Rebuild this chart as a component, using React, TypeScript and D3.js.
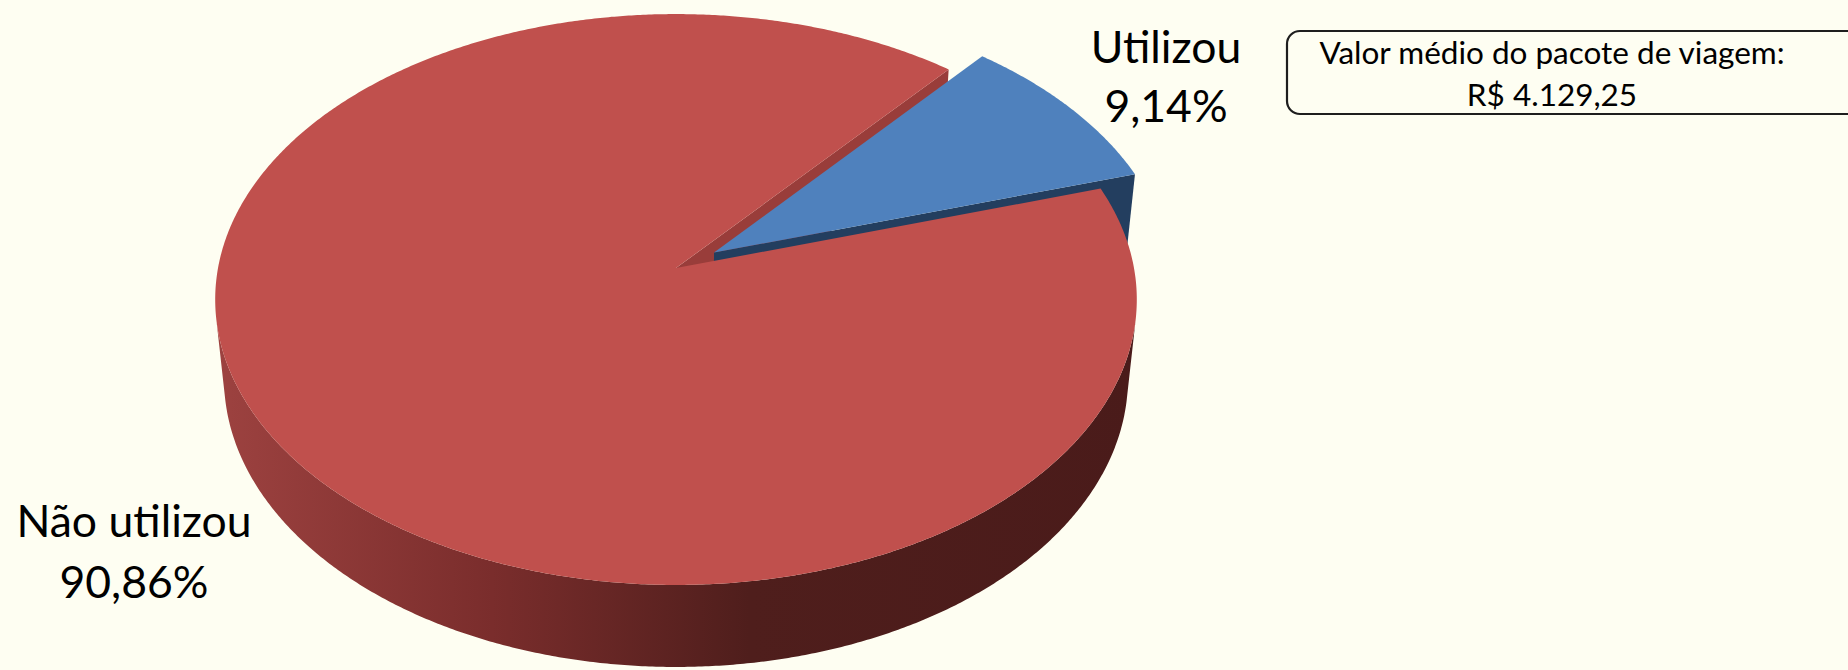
import { useMemo } from 'react'
import * as d3 from 'd3'

// data
const categories = ['Utilizou', 'Não utilizou']
const values = [9.14, 90.86]
const valueLabels = ['9,14%', '90,86%']
const noteLines = ['Valor médio do pacote de viagem:', 'R$ 4.129,25']

const W = 1848
const H = 670
const RAD = Math.PI / 180

// 3d camera
const cx = 676
const cy = 268
const dist = 7.14
const elev = 38 * RAD
const focal = 3270
const depth = 0.2235
const startDeg = 40.2
const explode = [0.1, 0]

const topColors = ['#4F81BD', '#C0504D']
const edgeColors = ['#233E5F', '#993D3A']
const wallColors = ['#2A4A70', 'url(#wallGrad)']

const sinE = Math.sin(elev)
const cosE = Math.cos(elev)
const cam = [0, dist * sinE, dist * cosE]

type P3 = [number, number, number]

function project([X, Y, Z]: P3): [number, number] {
  const w = dist - (Y * sinE + Z * cosE)
  const v = Y * cosE - Z * sinE
  return [cx + (focal * X) / w, cy - (focal * v) / w]
}

function visible(n: P3, p: P3) {
  return n[0] * (cam[0] - p[0]) + n[1] * (cam[1] - p[1]) + n[2] * (cam[2] - p[2]) > 0
}

const line = d3.line<[number, number]>()

export default function App() {
  const faces = useMemo(() => {
    const arcs = d3
      .pie<number>()
      .sort(null)
      .startAngle(startDeg * RAD)
      .endAngle(startDeg * RAD + Math.PI * 2)(values)

    const sides: { key: string; d: string; fill: string }[][] = []
    const tops: { key: string; d: string; fill: string }[] = []

    arcs.forEach((a, i) => {
      const mid = (a.startAngle + a.endAngle) / 2
      const ox = explode[i] * Math.sin(mid)
      const oz = -explode[i] * Math.cos(mid)
      const rim = (t: number, y: number): P3 => [ox + Math.sin(t), y, oz - Math.cos(t)]
      const apex = (y: number): P3 => [ox, y, oz]
      const n = Math.max(8, Math.ceil((a.endAngle - a.startAngle) / (0.4 * RAD)))
      const ts = d3.range(n + 1).map((j) => a.startAngle + ((a.endAngle - a.startAngle) * j) / n)

      const list: { key: string; d: string; fill: string }[] = []

      // radial faces
      ;[
        { t: a.startAngle, nrm: a.startAngle - Math.PI / 2 },
        { t: a.endAngle, nrm: a.endAngle + Math.PI / 2 },
      ].forEach((f, k) => {
        const nv: P3 = [Math.sin(f.nrm), 0, -Math.cos(f.nrm)]
        const pMid: P3 = [ox + 0.5 * Math.sin(f.t), 0, oz - 0.5 * Math.cos(f.t)]
        if (!visible(nv, pMid)) return
        const pts = [apex(0), rim(f.t, 0), rim(f.t, -depth), apex(-depth)].map(project)
        list.push({ key: `r${i}${k}`, d: line(pts) + 'Z', fill: edgeColors[i] })
      })

      // outer wall, contiguous visible runs
      let run: number[] = []
      const runs: number[][] = []
      ts.forEach((t) => {
        const nv: P3 = [Math.sin(t), 0, -Math.cos(t)]
        if (visible(nv, rim(t, -depth / 2))) run.push(t)
        else if (run.length) {
          runs.push(run)
          run = []
        }
      })
      if (run.length) runs.push(run)
      runs.forEach((r, k) => {
        if (r.length < 2) return
        const up = r.map((t) => project(rim(t, 0)))
        const dn = r.map((t) => project(rim(t, -depth))).reverse()
        list.push({ key: `w${i}${k}`, d: line([...up, ...dn]) + 'Z', fill: wallColors[i] })
      })

      sides.push(list)

      const topPts = [project(apex(0)), ...ts.map((t) => project(rim(t, 0)))]
      tops.push({ key: `t${i}`, d: line(topPts) + 'Z', fill: topColors[i] })
    })

    // painter order: red sides, blue sides, blue top, red top
    return [...sides[1], ...sides[0], tops[0], tops[1]]
  }, [])

  const font = "Lato, 'Open Sans', sans-serif"

  return (
    <svg
      width={W}
      height={H}
      style={{ position: 'absolute', left: 0, top: 0, display: 'block' }}
    >
      <defs>
        <linearGradient id="wallGrad" gradientUnits="userSpaceOnUse" x1={216} x2={1136} y1={0} y2={0}>
          <stop offset="0" stopColor="#9D4240" />
          <stop offset="0.3" stopColor="#7A2D2C" />
          <stop offset="0.58" stopColor="#4F1E1C" />
          <stop offset="1" stopColor="#4A1B1A" />
        </linearGradient>
      </defs>
      <rect width={W} height={H} fill="#FEFEF2" />

      {faces.map((f) => (
        <path key={f.key} d={f.d} fill={f.fill} />
      ))}

      <g fontFamily={font} fontSize={44.5} fill="#000" textAnchor="middle">
        <text x={1166} y={63}>{categories[0]}</text>
        <text x={1166} y={122}>{valueLabels[0]}</text>
        <text x={134} y={537}>{categories[1]}</text>
        <text x={134} y={598}>{valueLabels[1]}</text>
      </g>

      <rect x={1287} y={31} width={600} height={83} rx={13} fill="none" stroke="#1E1E1E" strokeWidth={2.2} />
      <g fontFamily={font} fontSize={31.5} fill="#000" textAnchor="middle">
        <text x={1552} y={64}>{noteLines[0]}</text>
        <text x={1552} y={106}>{noteLines[1]}</text>
      </g>
    </svg>
  )
}
